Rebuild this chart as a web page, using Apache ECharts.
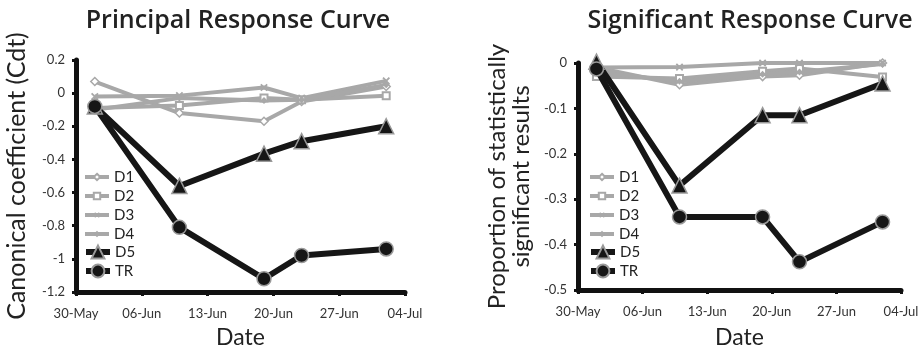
<!DOCTYPE html>
<html><head><meta charset="utf-8">
<script src="https://cdn.jsdelivr.net/npm/echarts@6/dist/echarts.min.js"></script>
<style>
html,body{margin:0;padding:0;background:#fff;}
#wrap{position:relative;width:923px;height:347px;}
#c1{position:absolute;left:0;top:0;width:462px;height:347px;}
#c2{position:absolute;left:462px;top:0;width:461px;height:347px;}
</style></head>
<body><div id="wrap"><div id="c1"></div><div id="c2"></div></div>
<script>
// Sampling days, counted in days since 30-May
const sampleDays = [2, 11, 20, 24, 33];
const weekTickLabels = ['30-May', '06-Jun', '13-Jun', '20-Jun', '27-Jun', '04-Jul'];
const seriesNames = ['D1', 'D2', 'D3', 'D4', 'D5', 'TR'];

// Principal Response Curve (canonical coefficient Cdt)
const prc_D1 = [0.07, -0.12, -0.17, -0.05, 0.04];
const prc_D2 = [-0.09, -0.075, -0.03, -0.04, -0.015];
const prc_D3 = [-0.02, -0.015, 0.034, -0.03, 0.074];
const prc_D4 = [-0.1, -0.03, -0.045, -0.04, 0.05];
const prc_D5 = [-0.08, -0.56, -0.365, -0.29, -0.2];
const prc_TR = [-0.08, -0.81, -1.12, -0.98, -0.94];

// Significant Response Curve (proportion of statistically significant results)
const src_D1 = [-0.01, -0.048, -0.03, -0.027, 0];
const src_D2 = [-0.03, -0.034, -0.018, -0.012, -0.031];
const src_D3 = [-0.01, -0.009, 0, 0, 0];
const src_D4 = [-0.02, -0.04, -0.025, -0.02, -0.002];
const src_D5 = [0.003, -0.27, -0.115, -0.115, -0.045];
const src_TR = [-0.013, -0.339, -0.339, -0.438, -0.35];

const FONT = 'Lato, "Noto Sans", sans-serif';
const TITLE_FONT = '"Open Sans", Lato, sans-serif';
const GRAY = '#a8a8a8';
const BLACK = '#161616';
const crossPath = 'path://M4,0 L6,0 L6,4 L10,4 L10,6 L6,6 L6,10 L4,10 L4,6 L0,6 L0,4 L4,4 Z';

const styles = {
  D1: {symbol: 'diamond', symbolSize: 8, color: GRAY, item: {color: '#fff', borderColor: GRAY, borderWidth: 1.5}, width: 4},
  D2: {symbol: 'rect', symbolSize: 7, color: GRAY, item: {color: '#fff', borderColor: GRAY, borderWidth: 2}, width: 4},
  D3: {symbol: crossPath, symbolSize: 9, rotate: 45, color: GRAY, item: {color: GRAY}, width: 4},
  D4: {symbol: 'diamond', symbolSize: 7, color: GRAY, item: {color: GRAY}, width: 4},
  D5: {symbol: 'triangle', symbolSize: 15, color: BLACK, item: {color: BLACK, borderColor: '#999', borderWidth: 1.5}, width: 6},
  TR: {symbol: 'circle', symbolSize: 14, color: BLACK, item: {color: BLACK, borderColor: '#999', borderWidth: 1.5}, width: 6}
};

function mkSeries(name, vals) {
  const s = styles[name];
  return {
    name: name, type: 'line',
    data: sampleDays.map((d, i) => [d, vals[i]]),
    symbol: s.symbol, symbolSize: s.symbolSize, symbolRotate: s.rotate || 0,
    showAllSymbol: true, clip: false,
    lineStyle: {color: s.color, width: s.width},
    itemStyle: s.item,
    z: (name === 'D5' || name === 'TR') ? 5 : 3,
    emphasis: {disabled: true}, animation: false
  };
}

function axisCommon() {
  return {
    axisLine: {show: true, onZero: false, lineStyle: {color: '#111', width: 5}},
    axisTick: {show: true, inside: false, length: 4, lineStyle: {color: '#111', width: 3}},
    splitLine: {show: false},
    axisLabel: {color: '#333', fontSize: 13, fontFamily: FONT}
  };
}

function legendCfg(left, top, names, itemH) {
  return {
    orient: 'vertical', left: left, top: top, itemGap: 3, itemWidth: 24, itemHeight: itemH,
    data: names, selectedMode: false,
    lineStyle: {width: 'inherit'},
    textStyle: {fontSize: 15, lineHeight: 16, color: '#222', fontFamily: FONT}
  };
}

function makeOption(cfg) {
  const xa = Object.assign(axisCommon(), {
    type: 'value', min: 0, max: 35, interval: 7,
    name: 'Date', nameLocation: 'middle', nameGap: cfg.xNameGap,
    nameTextStyle: {fontSize: 23, color: '#222', fontFamily: FONT}
  });
  xa.axisLabel = Object.assign({}, xa.axisLabel, {margin: 15, formatter: v => weekTickLabels[Math.round(v / 7)] || ''});
  const ya = Object.assign(axisCommon(), {
    type: 'value', min: cfg.yMin, max: cfg.yMax, interval: cfg.yInt,
    name: cfg.yName, nameLocation: 'middle', nameRotate: 90, nameGap: cfg.yNameGap,
    nameTextStyle: {fontSize: cfg.yNameSize, color: '#222', fontFamily: FONT, lineHeight: cfg.yNameLH}
  });
  ya.axisLabel = Object.assign({}, ya.axisLabel, {margin: 11, formatter: v => {
    const r = Math.round(v * 10) / 10; return r === 0 ? '0' : String(r);
  }});
  return {
    animation: false,
    title: {text: cfg.title, left: cfg.titleLeft, top: 3, textAlign: 'center',
      textStyle: {fontSize: 25, fontWeight: 600, color: '#222', fontFamily: TITLE_FONT}},
    grid: Object.assign({containLabel: false, outerBoundsMode: 'none'}, cfg.grid),
    legend: [
      legendCfg(cfg.legendLeft, 164, ['D1', 'D2', 'D3', 'D4'], 8),
      legendCfg(cfg.legendLeft, 239, ['D5', 'TR'], 16)
    ],
    xAxis: xa, yAxis: ya,
    series: cfg.series
  };
}

const c1 = echarts.init(document.getElementById('c1'));
c1.setOption(makeOption({
  title: 'Principal Response Curve', titleLeft: 233,
  grid: {left: 76, right: 57, top: 60, bottom: 55},
  legendLeft: 78, xNameGap: 34,
  yMin: -1.2, yMax: 0.2, yInt: 0.2,
  yName: 'Canonical coefficient (Cdt)', yNameGap: 44, yNameSize: 25, yNameLH: 28,
  series: [mkSeries('D1', prc_D1), mkSeries('D2', prc_D2), mkSeries('D3', prc_D3), mkSeries('D4', prc_D4), mkSeries('D5', prc_D5), mkSeries('TR', prc_TR)]
}));

const c2 = echarts.init(document.getElementById('c2'));
c2.setOption(makeOption({
  title: 'Significant Response Curve', titleLeft: 283,
  grid: {left: 116, right: 22, top: 63, bottom: 57},
  legendLeft: 121, xNameGap: 36,
  yMin: -0.5, yMax: 0, yInt: 0.1,
  yName: 'Proportion of statistically\nsignificant results', yNameGap: 32, yNameSize: 24, yNameLH: 24,
  series: [mkSeries('D1', src_D1), mkSeries('D2', src_D2), mkSeries('D3', src_D3), mkSeries('D4', src_D4), mkSeries('D5', src_D5), mkSeries('TR', src_TR)]
}));
</script></body></html>
